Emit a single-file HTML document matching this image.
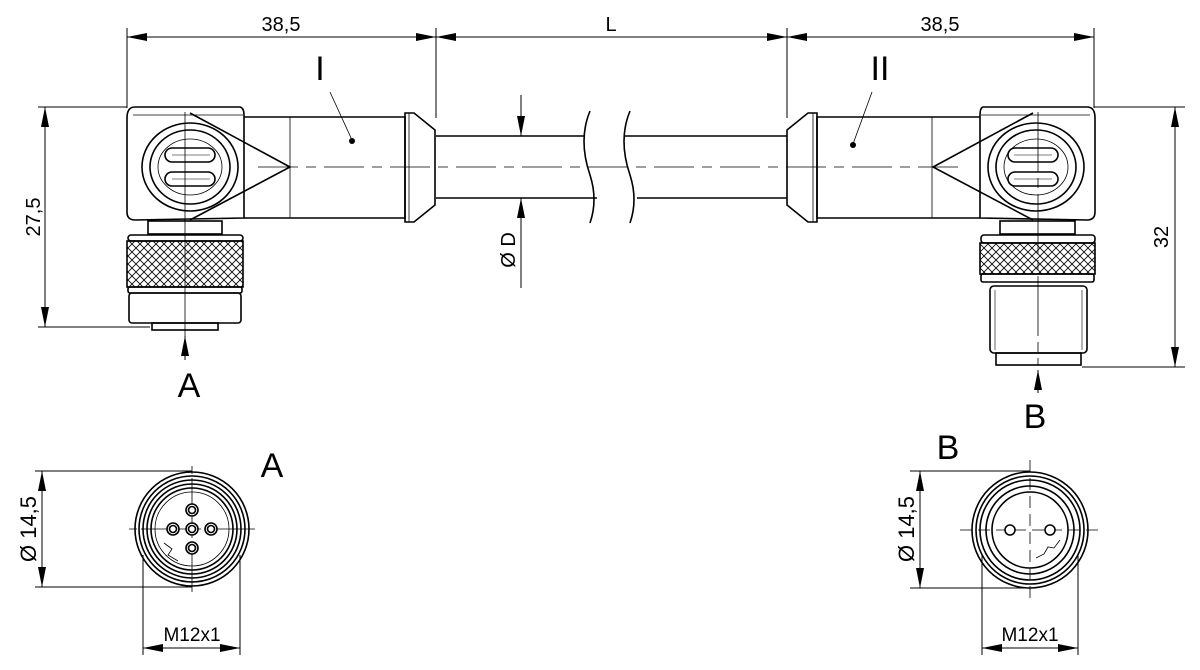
<!DOCTYPE html>
<html><head><meta charset="utf-8"><style>
html,body{margin:0;padding:0;background:#fff}
svg{display:block}
text{font-family:"Liberation Sans",sans-serif;fill:#000}
</style></head><body>
<svg width="1200" height="670" viewBox="0 0 1200 670" xmlns="http://www.w3.org/2000/svg">
<defs>
<marker id="ar" viewBox="0 0 20 8" refX="20" refY="4" markerWidth="20" markerHeight="8" markerUnits="userSpaceOnUse" orient="auto-start-reverse"><path d="M0,0 L20,4 L0,8 z" fill="#000"/></marker>
<pattern id="kn" width="8" height="8" patternUnits="userSpaceOnUse"><path d="M0,0 L8,8 M8,0 L0,8" stroke="#000" stroke-width="0.8"/></pattern>
</defs>
<g fill="none" stroke="#000" stroke-width="1.6">
<!-- top dims -->
<line x1="127" y1="28" x2="127" y2="108" stroke-width="1"/>
<line x1="436" y1="28" x2="436" y2="118" stroke-width="1"/>
<line x1="787" y1="28" x2="787" y2="118" stroke-width="1"/>
<line x1="1094" y1="28" x2="1094" y2="108" stroke-width="1"/>
<line x1="127" y1="37" x2="436" y2="37" marker-start="url(#ar)" marker-end="url(#ar)" stroke-width="1"/>
<line x1="436" y1="37" x2="787" y2="37" marker-start="url(#ar)" marker-end="url(#ar)" stroke-width="1"/>
<line x1="787" y1="37" x2="1094" y2="37" marker-start="url(#ar)" marker-end="url(#ar)" stroke-width="1"/>
<!-- left vertical dim -->
<line x1="38" y1="107" x2="127" y2="107" stroke-width="1"/>
<line x1="38" y1="327" x2="150" y2="327" stroke-width="1"/>
<line x1="45" y1="107" x2="45" y2="327" marker-start="url(#ar)" marker-end="url(#ar)" stroke-width="1"/>
<!-- right vertical dim -->
<line x1="1094" y1="107" x2="1185" y2="107" stroke-width="1"/>
<line x1="1082" y1="367" x2="1185" y2="367" stroke-width="1"/>
<line x1="1175" y1="107" x2="1175" y2="367" marker-start="url(#ar)" marker-end="url(#ar)" stroke-width="1"/>

<!-- LEFT CONNECTOR -->
<path d="M135,107 L240,107 Q244,108 244,115 L244,218 L135,220 Q127,220 127,212 L127,118 Q127,107 135,107 z"/>
<path d="M133,115 L243,115" stroke-width="0.8"/>
<path d="M244,117 L405,117 L405,218 L244,218"/>
<line x1="290" y1="117" x2="290" y2="218" stroke-width="0.8"/>
<path d="M405,113 L414,113 L435,130 L435,205 L414,222 L405,222 z"/>
<line x1="409" y1="113" x2="409" y2="222" stroke-width="0.8"/>
<path d="M190,113 L290,167 L190,220"/>
<ellipse cx="190" cy="167" rx="48" ry="44"/>
<ellipse cx="190" cy="167" rx="40" ry="37"/>
<ellipse cx="190" cy="167" rx="32" ry="28" stroke-width="0.8"/>
<rect x="165" y="148" width="50" height="14" rx="7"/>
<rect x="165" y="172" width="50" height="14" rx="7"/>
<line x1="172" y1="155" x2="210" y2="155" stroke-width="0.6"/>
<line x1="172" y1="179" x2="210" y2="179" stroke-width="0.6"/>
<rect x="148" y="221" width="74" height="13"/>
<rect x="128" y="235" width="115" height="6" rx="3"/>
<rect x="127" y="241" width="116" height="46" fill="url(#kn)"/>
<rect x="128" y="287" width="114" height="6" rx="2"/>
<rect x="129" y="293" width="112" height="30" rx="3"/>
<rect x="152" y="323" width="66" height="7"/>
<line x1="185" y1="112" x2="185" y2="345" stroke-width="0.8"/>
<line x1="185" y1="360" x2="185" y2="336" marker-end="url(#ar)" stroke-width="1"/>

<!-- centerline -->
<line x1="258" y1="167" x2="960" y2="167" stroke-width="0.8" stroke-dasharray="40,8,10,8"/>

<!-- CABLE -->
<line x1="436" y1="136" x2="585" y2="136"/>
<line x1="436" y1="198" x2="597" y2="198"/>
<line x1="625" y1="136" x2="787" y2="136"/>
<line x1="637" y1="198" x2="787" y2="198"/>
<path d="M590,111 Q578,140 590,175 Q598,200 590,223"/>
<path d="M630,111 Q618,140 630,175 Q638,200 630,223"/>
<line x1="521" y1="95" x2="521" y2="136" marker-end="url(#ar)" stroke-width="1"/>
<line x1="521" y1="288" x2="521" y2="198" marker-end="url(#ar)" stroke-width="1"/>

<!-- RIGHT CONNECTOR -->
<path d="M983,107 L1087,107 Q1095,107 1095,118 L1095,212 Q1095,220 1087,220 L980,218 L980,115 Q980,108 983,107 z"/>
<path d="M981,115 L1090,115" stroke-width="0.8"/>
<path d="M980,117 L817,117 L817,218 L980,218"/>
<line x1="932" y1="117" x2="932" y2="218" stroke-width="0.8"/>
<path d="M817,113 L808,113 L787,130 L787,205 L808,222 L817,222 z"/>
<line x1="813" y1="113" x2="813" y2="222" stroke-width="0.8"/>
<path d="M1033,113 L933,167 L1033,220"/>
<ellipse cx="1036" cy="167" rx="48" ry="44"/>
<ellipse cx="1036" cy="167" rx="40" ry="37"/>
<ellipse cx="1036" cy="167" rx="32" ry="28" stroke-width="0.8"/>
<rect x="1008" y="148" width="50" height="14" rx="7"/>
<rect x="1008" y="172" width="50" height="14" rx="7"/>
<line x1="1014" y1="155" x2="1052" y2="155" stroke-width="0.6"/>
<line x1="1014" y1="179" x2="1052" y2="179" stroke-width="0.6"/>
<rect x="1000" y="221" width="75" height="13"/>
<rect x="981" y="235" width="114" height="8" rx="3"/>
<rect x="980" y="243" width="115" height="31" fill="url(#kn)"/>
<rect x="981" y="274" width="113" height="8" rx="2"/>
<rect x="990" y="286" width="97" height="67" rx="4"/>
<line x1="995" y1="290" x2="995" y2="350" stroke-width="0.6"/>
<line x1="1082" y1="290" x2="1082" y2="350" stroke-width="0.6"/>
<rect x="996" y="353" width="85" height="12"/>
<line x1="1038" y1="112" x2="1038" y2="365" stroke-width="0.8" stroke-dasharray="60,6,10,6"/>
<line x1="1038" y1="393" x2="1038" y2="370" marker-end="url(#ar)" stroke-width="1"/>

<!-- leaders -->
<line x1="330" y1="92" x2="352" y2="140" stroke-width="0.8"/>
<line x1="872" y1="92" x2="853" y2="144" stroke-width="0.8"/>

<!-- END VIEW A -->
<g transform="translate(192,529)">
<circle r="57"/><circle r="53"/><circle r="49"/><circle r="45"/><circle r="41"/><circle r="37" stroke-width="0.8"/>
<line x1="-63" y1="0" x2="63" y2="0" stroke-width="0.8" stroke-dasharray="8,4,60,4"/>
<line x1="0" y1="-63" x2="0" y2="63" stroke-width="0.8" stroke-dasharray="8,4,60,4"/>
<circle r="6" fill="#fff"/><circle r="3.5"/>
<circle cx="-19" r="6" fill="#fff"/><circle cx="-19" r="3.5"/>
<circle cx="19" r="6" fill="#fff"/><circle cx="19" r="3.5"/>
<circle cy="-19" r="6" fill="#fff"/><circle cy="-19" r="3.5"/>
<circle cy="19" r="6" fill="#fff"/><circle cy="19" r="3.5"/>
<path d="M-28,14 L-20,20 L-24,26 L-14,32" stroke-width="0.8"/>
</g>
<line x1="35" y1="471" x2="192" y2="471" stroke-width="1"/>
<line x1="35" y1="587" x2="192" y2="587" stroke-width="1"/>
<line x1="42" y1="471" x2="42" y2="587" marker-start="url(#ar)" marker-end="url(#ar)" stroke-width="1"/>
<line x1="143" y1="555" x2="143" y2="655" stroke-width="1"/>
<line x1="240" y1="555" x2="240" y2="655" stroke-width="1"/>
<line x1="143" y1="648" x2="240" y2="648" marker-start="url(#ar)" marker-end="url(#ar)" stroke-width="1"/>

<!-- END VIEW B -->
<g transform="translate(1030,530)">
<circle r="58"/><circle r="54"/><circle r="50"/><circle r="44"/><circle r="38"/>
<line x1="-70" y1="0" x2="70" y2="0" stroke-width="0.8" stroke-dasharray="12,6"/>
<line x1="0" y1="-70" x2="0" y2="70" stroke-width="0.8" stroke-dasharray="12,6"/>
<circle cx="-20" r="5" fill="#fff"/>
<circle cx="20" r="5" fill="#fff"/>
<path d="M30,10 L24,18 L18,17 L14,24 L6,28" stroke-width="0.8"/>
</g>
<line x1="910" y1="471" x2="1030" y2="471" stroke-width="1"/>
<line x1="910" y1="588" x2="1030" y2="588" stroke-width="1"/>
<line x1="920" y1="471" x2="920" y2="588" marker-start="url(#ar)" marker-end="url(#ar)" stroke-width="1"/>
<line x1="982" y1="555" x2="982" y2="655" stroke-width="1"/>
<line x1="1078" y1="555" x2="1078" y2="655" stroke-width="1"/>
<line x1="982" y1="648" x2="1078" y2="648" marker-start="url(#ar)" marker-end="url(#ar)" stroke-width="1"/>
</g>
<circle cx="352" cy="141" r="3" fill="#000"/>
<circle cx="853" cy="145" r="3" fill="#000"/>

<text x="281" y="31" font-size="20" text-anchor="middle">38,5</text>
<text x="611" y="31" font-size="20" text-anchor="middle">L</text>
<text x="940" y="31" font-size="20" text-anchor="middle">38,5</text>
<text x="320" y="80" font-size="34" text-anchor="middle">I</text>
<text x="880" y="80" font-size="34" text-anchor="middle">II</text>
<text x="189" y="397" font-size="34" text-anchor="middle">A</text>
<text x="1035" y="428" font-size="34" text-anchor="middle">B</text>
<text x="272" y="477" font-size="34" text-anchor="middle">A</text>
<text x="948" y="459" font-size="34" text-anchor="middle">B</text>
<text x="192" y="641" font-size="19" text-anchor="middle">M12x1</text>
<text x="1030" y="641" font-size="19" text-anchor="middle">M12x1</text>
<text transform="translate(40,217) rotate(-90)" font-size="20" text-anchor="middle">27,5</text>
<text transform="translate(1168,237) rotate(-90)" font-size="20" text-anchor="middle">32</text>
<text transform="translate(515,250) rotate(-90)" font-size="20" text-anchor="middle">Ø D</text>
<text transform="translate(36,529) rotate(-90)" font-size="22" text-anchor="middle">Ø 14,5</text>
<text transform="translate(914,529) rotate(-90)" font-size="22" text-anchor="middle">Ø 14,5</text>
</svg>
</body></html>
